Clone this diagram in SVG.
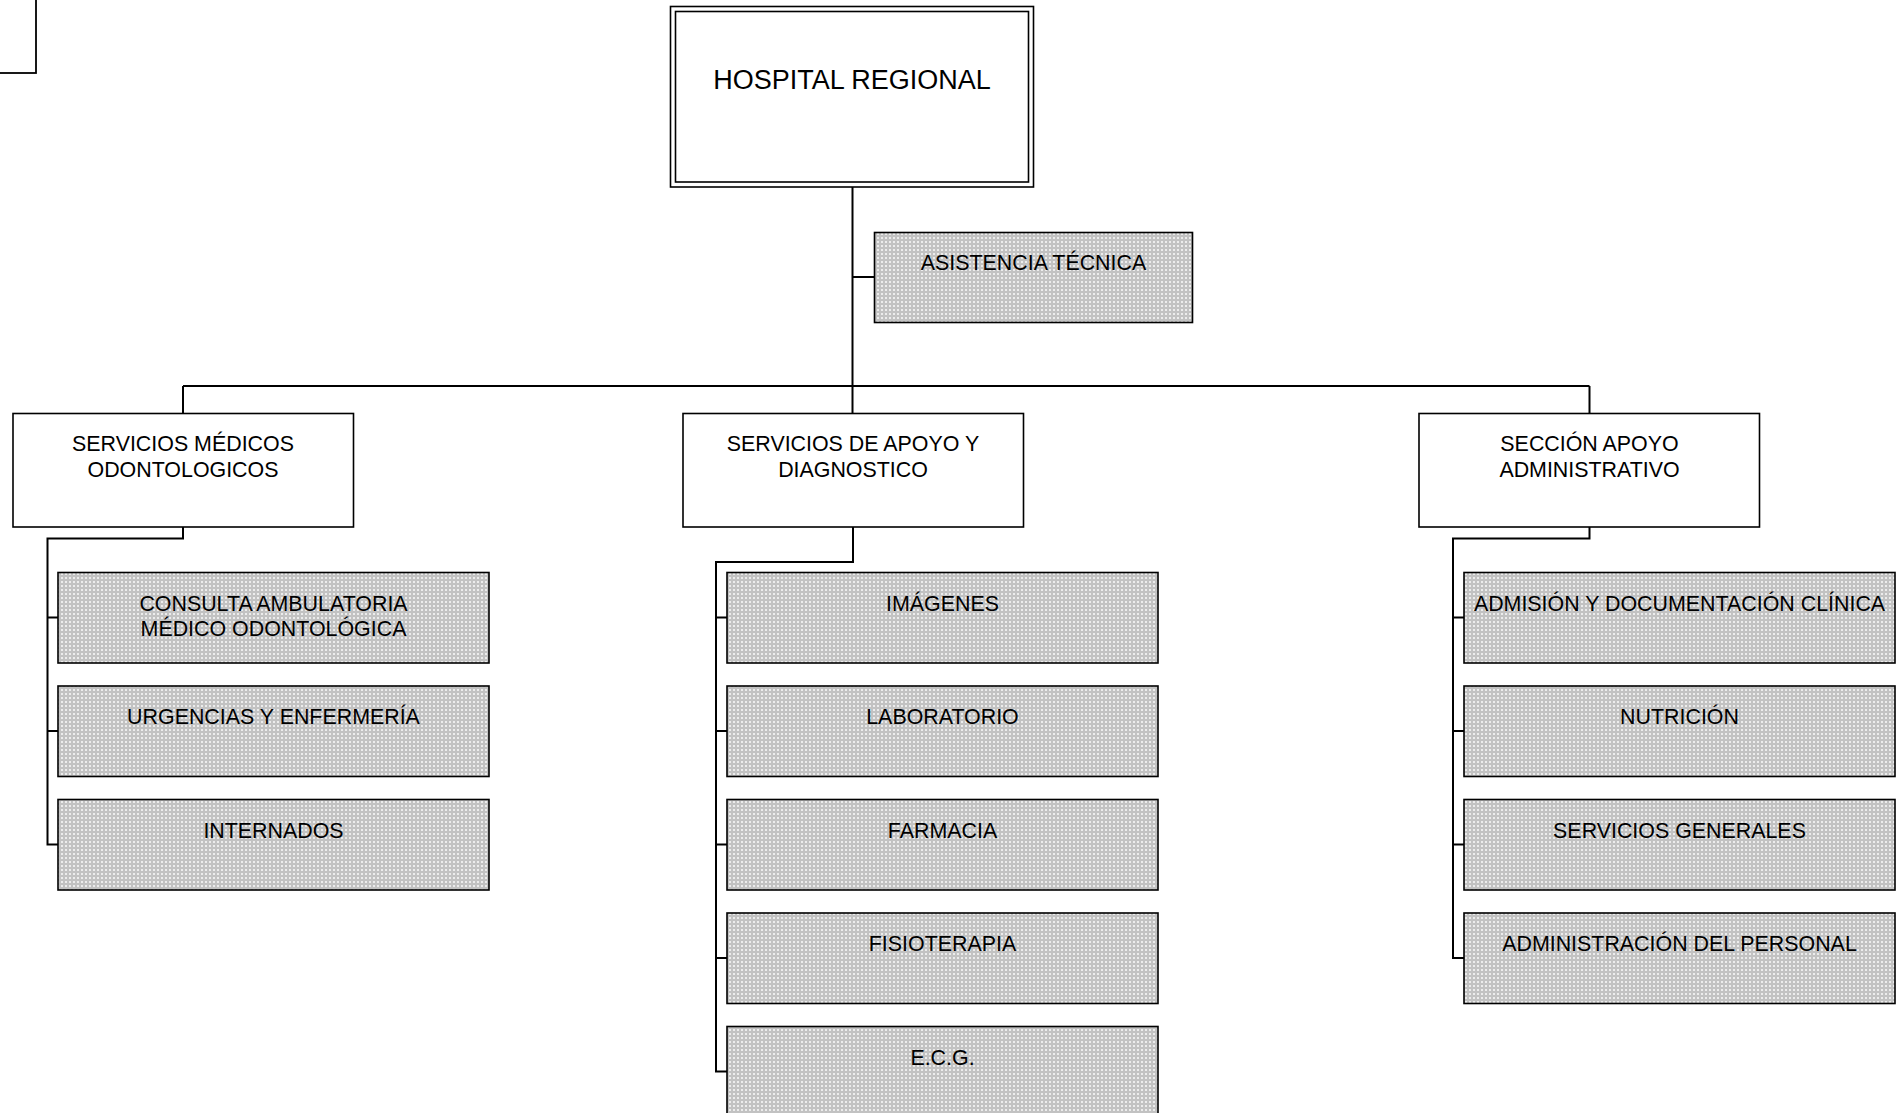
<svg xmlns="http://www.w3.org/2000/svg" width="1899" height="1113" viewBox="0 0 1899 1113">
<defs>
<pattern id="dots" width="4" height="4" patternUnits="userSpaceOnUse">
<rect width="4" height="4" fill="#c2c2c2"/>
<rect x="1" y="1" width="2" height="2" fill="#ececec"/>
</pattern>
</defs>
<style>
.box{fill:#fff;stroke:#000;stroke-width:1.6}
.sub{fill:url(#dots);stroke:#000;stroke-width:1.6}
.lbl{font-family:"Liberation Sans",Arial,sans-serif;font-size:21.4px;fill:#000;text-anchor:middle}
.big{font-family:"Liberation Sans",Arial,sans-serif;font-size:27px;fill:#000;text-anchor:middle}
.con{fill:none;stroke:#000;stroke-width:2}
</style>
<rect x="-10" y="-10" width="46" height="83" fill="#fff" stroke="#000" stroke-width="1.8"/>

<g id="connectors">
<path class="con" d="M852.5 187 V413"/>
<path class="con" d="M852.5 277 H874"/>
<path class="con" d="M183 386 H1589.5"/>
<path class="con" d="M183 386 V413"/>
<path class="con" d="M1589.5 386 V413"/>
<path class="con" d="M183 527 V538.5 H47.5 V844.5 H58"/>
<path class="con" d="M47.5 617.5 H58 M47.5 731 H58"/>
<path class="con" d="M853 527 V562 H716 V1071.5 H727"/>
<path class="con" d="M716 617.5 H727 M716 731 H727 M716 844.5 H727 M716 958 H727"/>
<path class="con" d="M1589.5 527 V538.5 H1453 V958 H1464"/>
<path class="con" d="M1453 617.5 H1464 M1453 731 H1464 M1453 844.5 H1464"/>
</g>

<g id="hospital">
<rect class="box" x="670.5" y="6.5" width="363" height="180.5"/>
<rect class="box" x="675.5" y="11.5" width="353" height="170.5"/>
<text class="big" x="852" y="89">HOSPITAL REGIONAL</text>
</g>

<g id="asistencia">
<rect class="sub" x="874.5" y="232.5" width="318" height="90"/>
<text class="lbl" x="1033.5" y="270">ASISTENCIA TÉCNICA</text>
</g>

<g id="servicios-medicos">
<rect class="box" x="13" y="413.5" width="340.5" height="113.5"/>
<text class="lbl" x="183" y="451">SERVICIOS MÉDICOS</text>
<text class="lbl" x="183" y="477">ODONTOLOGICOS</text>
</g>
<g id="servicios-apoyo">
<rect class="box" x="683" y="413.5" width="340.5" height="113.5"/>
<text class="lbl" x="853" y="451">SERVICIOS DE APOYO Y</text>
<text class="lbl" x="853" y="477">DIAGNOSTICO</text>
</g>
<g id="seccion-apoyo">
<rect class="box" x="1419" y="413.5" width="340.5" height="113.5"/>
<text class="lbl" x="1589.5" y="451">SECCIÓN APOYO</text>
<text class="lbl" x="1589.5" y="477">ADMINISTRATIVO</text>
</g>

<g id="consulta">
<rect class="sub" x="58" y="572.5" width="431" height="90.5"/>
<text class="lbl" x="273.5" y="610.5">CONSULTA AMBULATORIA</text>
<text class="lbl" x="273.5" y="636">MÉDICO ODONTOLÓGICA</text>
</g>
<g id="urgencias">
<rect class="sub" x="58" y="686" width="431" height="90.5"/>
<text class="lbl" x="273.5" y="724">URGENCIAS Y ENFERMERÍA</text>
</g>
<g id="internados">
<rect class="sub" x="58" y="799.5" width="431" height="90.5"/>
<text class="lbl" x="273.5" y="837.5">INTERNADOS</text>
</g>

<g id="imagenes">
<rect class="sub" x="727" y="572.5" width="431" height="90.5"/>
<text class="lbl" x="942.5" y="610.5">IMÁGENES</text>
</g>
<g id="laboratorio">
<rect class="sub" x="727" y="686" width="431" height="90.5"/>
<text class="lbl" x="942.5" y="724">LABORATORIO</text>
</g>
<g id="farmacia">
<rect class="sub" x="727" y="799.5" width="431" height="90.5"/>
<text class="lbl" x="942.5" y="837.5">FARMACIA</text>
</g>
<g id="fisioterapia">
<rect class="sub" x="727" y="913" width="431" height="90.5"/>
<text class="lbl" x="942.5" y="951">FISIOTERAPIA</text>
</g>
<g id="ecg">
<rect class="sub" x="727" y="1026.5" width="431" height="100"/>
<text class="lbl" x="942.5" y="1064.5">E.C.G.</text>
</g>

<g id="admision">
<rect class="sub" x="1464" y="572.5" width="431" height="90.5"/>
<text class="lbl" x="1679.5" y="610.5">ADMISIÓN Y DOCUMENTACIÓN CLÍNICA</text>
</g>
<g id="nutricion">
<rect class="sub" x="1464" y="686" width="431" height="90.5"/>
<text class="lbl" x="1679.5" y="724">NUTRICIÓN</text>
</g>
<g id="servicios-generales">
<rect class="sub" x="1464" y="799.5" width="431" height="90.5"/>
<text class="lbl" x="1679.5" y="837.5">SERVICIOS GENERALES</text>
</g>
<g id="administracion-personal">
<rect class="sub" x="1464" y="913" width="431" height="90.5"/>
<text class="lbl" x="1679.5" y="951">ADMINISTRACIÓN DEL PERSONAL</text>
</g>
</svg>
